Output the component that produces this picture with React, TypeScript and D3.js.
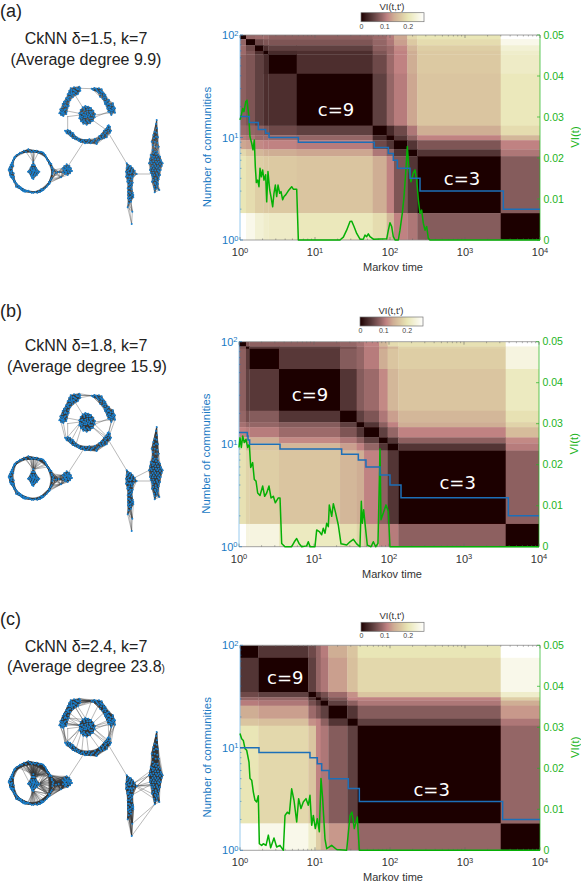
// Three-row figure: CkNN network drawings next to Markov stability heatmaps.
import { useMemo } from "react";
import * as d3 from "d3";

const FONT = "'Liberation Sans', Arial, sans-serif";
const BLUE = "#1a7ac4";
const LINE_BLUE = "#1c6fb8";
const GREEN = "#22b422";
const LINE_GREEN = "#05b005";

/** Colormap stops for VI(t,t'). */
const CMAP_VALUES = [0, 0.02, 0.05, 0.09, 0.11, 0.14, 0.17, 0.2, 0.27];
const CMAP_COLORS = ["#1f0000", "#3a1e1e", "#5f3f3f", "#9c6b6b", "#c08282", "#cfae94", "#dcc9a2", "#e9e6b6", "#ffffff"];

/* ---- panel (a) ---- */
const aSegments = [0, 0.08, 0.2, 0.31, 0.378, 0.756, 1.769, 1.956, 2.053, 2.231, 2.364, 3.476, 4];
const aVI = [
  [0, 0.085, 0.09, 0.09, 0.08, 0.08, 0.09, 0.105, 0.135, 0.185, 0.2, 0.27],
  [0, 0.06, 0.07, 0.07, 0.07, 0.085, 0.1, 0.13, 0.17, 0.19, 0.25],
  [0, 0.035, 0.05, 0.05, 0.08, 0.09, 0.115, 0.15, 0.175, 0.23],
  [0, 0.03, 0.035, 0.07, 0.09, 0.11, 0.14, 0.17, 0.22],
  [0, 0.035, 0.06, 0.09, 0.11, 0.14, 0.17, 0.215],
  [0, 0.05, 0.085, 0.105, 0.135, 0.165, 0.205],
  [0, 0.03, 0.06, 0.1, 0.14, 0.19],
  [0, 0.04, 0.08, 0.11, 0.15],
  [0, 0.04, 0.07, 0.11],
  [0, 0.04, 0.1],
  [0, 0.075],
  [0],
];
const aCommLogT = [0, 0.124, 0.244, 0.342, 0.387, 0.778, 1.791, 1.978, 2.044, 2.098, 2.267, 2.4, 3.511, 4];
const aCommCount = [16, 14, 12, 11, 10, 9, 8, 7, 6, 5, 4, 3, 2, 2];
const aViLogT = [
  0, 0.018, 0.036, 0.053, 0.076, 0.093, 0.116, 0.133, 0.156, 0.173, 0.191, 0.204, 0.218, 0.236, 0.253, 0.267, 0.284,
  0.302, 0.32, 0.342, 0.356, 0.373, 0.396, 0.413, 0.436, 0.453, 0.471, 0.489, 0.507, 0.529, 0.547, 0.569, 0.587, 0.609,
  0.644, 0.689, 0.711, 0.756, 0.778, 1.333, 1.378, 1.422, 1.467, 1.489, 1.52, 1.556, 1.6, 1.644, 1.667, 1.689, 1.711,
  1.733, 1.778, 1.956, 1.978, 2.0, 2.022, 2.044, 2.067, 2.111, 2.133, 2.164, 2.187, 2.209, 2.231, 2.253, 2.28, 2.311,
  2.333, 2.356, 2.378, 2.4, 2.422, 2.444, 2.467, 2.489, 2.511, 2.533, 4,
];
const aViValues = [
  0.0293, 0.0305, 0.0321, 0.0313, 0.0337, 0.0341, 0.0305, 0.0252, 0.0236, 0.022, 0.0244, 0.0179, 0.014, 0.0146, 0.013,
  0.0175, 0.0154, 0.0171, 0.0146, 0.0159, 0.0093, 0.0167, 0.0122, 0.0106, 0.0081, 0.0114, 0.0134, 0.0106, 0.0134,
  0.0114, 0.0118, 0.0098, 0.0106, 0.011, 0.012, 0.013, 0.0124, 0.0124, 0, 0, 0.0007, 0.0024, 0.0045, 0.0046, 0.0033,
  0.0016, 0.0002, 0.0002, 0.0012, 0.0008, 0.0015, 0.0008, 0.0002, 0.0003, 0.0024, 0.0042, 0.0033, 0.0008, 0, 0, 0.0024,
  0.0065, 0.0106, 0.0163, 0.0228, 0.0171, 0.0142, 0.0163, 0.0171, 0.0146, 0.0098, 0.0065, 0.0073, 0.0041, 0.0024,
  0.0033, 0.0004, 0, 0,
];

/* ---- panel (b) ---- */
const bSegments = [0, 0.093, 0.138, 0.533, 1.347, 1.569, 1.667, 1.867, 1.982, 2.124, 3.556, 4];
const bVI = [
  [0, 0.07, 0.08, 0.08, 0.085, 0.095, 0.11, 0.15, 0.19, 0.195, 0.27],
  [0, 0.045, 0.05, 0.065, 0.085, 0.105, 0.13, 0.15, 0.18, 0.24],
  [0, 0.045, 0.075, 0.085, 0.105, 0.14, 0.165, 0.175, 0.24],
  [0, 0.04, 0.075, 0.09, 0.115, 0.15, 0.165, 0.21],
  [0, 0.05, 0.07, 0.1, 0.13, 0.15, 0.195],
  [0, 0.04, 0.08, 0.11, 0.14, 0.18],
  [0, 0.05, 0.085, 0.11, 0.155],
  [0, 0.04, 0.08, 0.115],
  [0, 0.04, 0.105],
  [0, 0.08],
  [0],
];
const bCommLogT = [0, 0.111, 0.12, 0.13, 0.142, 0.547, 1.369, 1.591, 1.693, 1.88, 2.013, 2.16, 3.591, 4];
const bCommCount = [13, 12, 11, 11, 10, 9, 8, 7, 6, 5, 4, 3, 2, 2];
const bViLogT = [
  0, 0.013, 0.031, 0.049, 0.071, 0.093, 0.116, 0.138, 0.156, 0.182, 0.204, 0.227, 0.249, 0.28, 0.316, 0.342, 0.369, 0.4,
  0.427, 0.458, 0.484, 0.524, 0.547, 0.569, 0.613, 0.702, 0.738, 0.769, 0.8, 0.836, 0.902, 0.924, 0.947, 1.013, 1.036,
  1.071, 1.102, 1.124, 1.147, 1.169, 1.191, 1.204, 1.236, 1.258, 1.289, 1.324, 1.36, 1.436, 1.48, 1.524, 1.569, 1.613,
  1.631, 1.644, 1.662, 1.689, 1.711, 1.76, 1.791, 1.822, 1.853, 1.88, 1.893, 1.924, 1.96, 1.991, 2.013, 4,
];
const bViValues = [
  0.0242, 0.0266, 0.0242, 0.027, 0.0254, 0.0262, 0.0242, 0.025, 0.0193, 0.0205, 0.0164, 0.016, 0.0131, 0.0125, 0.0148,
  0.0123, 0.0131, 0.0148, 0.0119, 0.0123, 0.0107, 0.0119, 0.0119, 0.0008, 0, 0, 0.0012, 0.002, 0.0008, 0, 0.0002,
  0.0012, 0, 0, 0.0041, 0.0037, 0.0029, 0.0045, 0.0033, 0.0057, 0.0049, 0.0102, 0.0074, 0.0105, 0.0082, 0.0053, 0.0007,
  0.0004, 0.0012, 0.0018, 0.0007, 0, 0.0111, 0.0057, 0.009, 0.0041, 0.0004, 0, 0.0012, 0, 0.0008, 0.0238, 0.0066,
  0.0082, 0.0102, 0.0086, 0, 0,
];

/* ---- panel (c) ---- */
const cSegments = [0, 0.244, 0.911, 1.013, 1.076, 1.178, 1.431, 1.569, 3.476, 4];
const cVI = [
  [0, 0.04, 0.06, 0.085, 0.105, 0.14, 0.165, 0.2, 0.27],
  [0, 0.05, 0.085, 0.1, 0.13, 0.16, 0.185, 0.25],
  [0, 0.04, 0.065, 0.09, 0.12, 0.165, 0.22],
  [0, 0.04, 0.07, 0.11, 0.11, 0.175],
  [0, 0.05, 0.08, 0.1, 0.14],
  [0, 0.04, 0.075, 0.125],
  [0, 0.05, 0.1],
  [0, 0.085],
  [0],
];
const cCommLogT = [0, 0.253, 0.933, 1.031, 1.089, 1.187, 1.444, 1.591, 3.502, 4];
const cCommCount = [10, 9, 8, 7, 6, 5, 4, 3, 2, 2];
const cViLogT = [
  0, 0.022, 0.044, 0.067, 0.089, 0.12, 0.133, 0.156, 0.178, 0.2, 0.222, 0.244, 0.258, 0.289, 0.311, 0.347, 0.378, 0.409,
  0.453, 0.489, 0.533, 0.578, 0.6, 0.631, 0.658, 0.689, 0.72, 0.756, 0.782, 0.813, 0.844, 0.88, 0.911, 0.933, 0.956,
  0.978, 1.004, 1.031, 1.058, 1.08, 1.102, 1.133, 1.156, 1.222, 1.289, 1.422, 1.467, 1.493, 1.524, 1.564, 1.591, 4,
];
const cViValues = [
  0.0285, 0.0272, 0.0268, 0.0248, 0.0244, 0.0215, 0.0175, 0.0171, 0.0142, 0.0122, 0.0118, 0.0133, 0.0016, 0.0012, 0.0016,
  0.0012, 0.0037, 0.0006, 0.003, 0.0008, 0.0012, 0, 0.0085, 0.0093, 0.0089, 0.015, 0.0122, 0.0069, 0.0126, 0.0102,
  0.0118, 0.0126, 0.011, 0.0134, 0.0061, 0.0085, 0.0053, 0.0077, 0.0045, 0.0175, 0.0126, 0.0028, 0.0004, 0.0012, 0.0002,
  0, 0.0085, 0.0093, 0.0053, 0.0081, 0, 0,
];

/* ---- network layout, shared by the three drawings (3x picture pixels) ---- */
const topLeftArc = [
  [182, 335], [187, 322], [192, 340], [196, 328], [183, 345], [190, 348], [200, 318], [195, 308], [188, 312], [205, 300],
  [198, 295], [210, 290], [203, 283], [215, 280], [208, 272], [220, 270], [226, 285], [212, 265], [222, 262], [232, 268],
  [238, 260], [241, 272], [235, 278], [228, 275], [218, 292], [205, 310], [193, 330], [200, 335], [214, 276], [224, 272],
  [198, 302], [186, 330], [190, 335], [185, 338], [194, 318], [202, 325], [206, 318], [211, 300], [216, 285], [222, 280],
  [229, 265], [236, 268], [214, 270], [205, 292], [196, 315], [189, 342], [178, 340], [181, 328], [207, 280], [233, 283],
  [241, 265], [220, 280], [210, 283], [199, 342], [192, 305], [187, 338], [203, 296],
];
const topRightArc = [
  [275, 266], [283, 264], [290, 270], [297, 265], [305, 268], [296, 278], [303, 283], [311, 285], [308, 296], [318, 292],
  [322, 302], [314, 305], [327, 312], [320, 318], [332, 316], [337, 325], [328, 328], [343, 333], [335, 338], [325, 335],
  [345, 325], [332, 330], [315, 312], [306, 276], [288, 266], [326, 322], [340, 328], [338, 316], [322, 326], [280, 270],
  [293, 274], [301, 272], [310, 278], [316, 298], [325, 310], [330, 322], [336, 332], [345, 338], [318, 306], [312, 292],
  [300, 290], [322, 312], [334, 345], [339, 310], [329, 335], [304, 275], [316, 284], [327, 300], [342, 322],
];
const bottomArc = [
  [195, 392], [203, 390], [200, 400], [208, 402], [215, 398], [212, 408], [222, 406], [218, 414], [230, 412], [226, 418],
  [238, 416], [245, 422], [252, 426], [258, 420], [266, 424], [272, 430], [280, 422], [288, 428], [296, 420], [303, 416],
  [298, 408], [308, 410], [315, 400], [312, 392], [320, 405], [325, 392], [330, 398], [322, 384], [330, 380], [318, 388],
  [326, 376], [305, 402], [236, 422], [285, 416], [198, 395], [206, 396], [214, 403], [224, 412], [233, 418], [242, 426],
  [250, 420], [262, 428], [275, 425], [292, 424], [300, 412], [310, 405], [318, 395], [328, 386], [333, 392], [320, 412],
  [290, 432], [268, 418], [210, 392], [220, 400], [255, 430], [312, 415], [323, 378],
];
const centerBlob = [
  [238, 340], [242, 330], [248, 322], [256, 318], [265, 320], [273, 324], [280, 332], [285, 342], [284, 352], [279, 362],
  [270, 370], [260, 374], [250, 371], [243, 364], [238, 355], [247, 338], [253, 330], [262, 328], [270, 335], [275, 345],
  [270, 355], [262, 362], [252, 360], [246, 350], [255, 345], [263, 342], [258, 352], [250, 344], [268, 345], [262, 335],
  [240, 347], [276, 355], [254, 366], [271, 328], [245, 356], [244, 340], [252, 325], [259, 322], [268, 328], [276, 336],
  [281, 347], [274, 362], [266, 366], [257, 368], [248, 364], [241, 352], [256, 338], [266, 350], [253, 352], [272, 340],
  [260, 348],
];
const leftRing = [
  [85, 448], [95, 456], [105, 455], [115, 458], [125, 456], [132, 462], [138, 470], [142, 480], [150, 488], [155, 500],
  [160, 510], [157, 522], [155, 535], [150, 548], [143, 556], [135, 565], [125, 573], [112, 578], [100, 578], [90, 576],
  [78, 572], [70, 568], [60, 562], [52, 556], [47, 548], [40, 538], [35, 528], [30, 515], [28, 505], [32, 495], [38, 485],
  [42, 475], [50, 465], [60, 458], [72, 452], [36, 512], [34, 520], [38, 530], [33, 505], [40, 498], [44, 542], [55, 563],
  [65, 570], [75, 575], [120, 576], [130, 570], [148, 552], [154, 492], [146, 483], [130, 458], [110, 452], [66, 458],
  [44, 470], [37, 490], [30, 525], [31, 500], [36, 495], [28, 512], [34, 515], [32, 530], [37, 535], [42, 545], [50, 552],
  [57, 558], [48, 560], [62, 566], [72, 570], [82, 574], [95, 578], [106, 576], [116, 574], [128, 568], [140, 560],
  [147, 546], [152, 540], [158, 515], [156, 505], [148, 492], [140, 474], [136, 465], [120, 455], [100, 452], [90, 452],
  [78, 456], [56, 462], [46, 472], [40, 480], [35, 490], [41, 520], [42, 530], [26, 510], [64, 563], [70, 574], [85, 572],
  [123, 568],
];
const leftInner = [
  [100, 487], [96, 495], [104, 496], [92, 503], [100, 503], [108, 504], [88, 512], [96, 511], [104, 512], [112, 514],
  [118, 515], [90, 520], [98, 520], [106, 521], [94, 528], [102, 529], [110, 526], [100, 537], [84, 515], [96, 534],
  [100, 495], [94, 507], [102, 508], [110, 509], [92, 516], [100, 516], [108, 516], [114, 520], [96, 524], [104, 525],
  [98, 530], [100, 512],
];
const smallBlob = [
  [188, 505], [193, 498], [200, 493], [208, 497], [213, 505], [216, 513], [210, 520], [203, 525], [195, 522], [189, 517],
  [197, 508], [204, 510], [200, 516], [207, 505], [194, 512], [183, 532], [168, 518], [176, 516], [196, 502], [203, 500],
  [209, 509], [192, 508], [198, 520], [206, 516], [212, 512], [201, 505], [196, 515],
];
const lowerColumn = [
  [380, 490], [385, 496], [392, 498], [380, 505], [388, 508], [398, 505], [404, 512], [378, 515], [386, 518], [395, 516],
  [410, 522], [383, 528], [392, 528], [400, 528], [378, 530], [388, 538], [396, 538], [382, 545], [392, 548], [398, 548],
  [386, 555], [392, 560], [383, 565], [395, 568], [388, 575], [398, 578], [384, 585], [392, 590], [400, 592], [388, 600],
  [384, 595], [393, 605], [383, 622], [397, 635], [395, 672], [386, 610], [383, 500], [390, 503], [395, 510], [384, 512],
  [391, 520], [380, 522], [388, 530], [395, 532], [384, 540], [390, 552], [396, 556], [388, 565], [391, 580], [384, 575],
  [396, 585], [387, 592], [392, 598], [400, 585], [386, 545], [402, 520],
];
const rightColumn = [
  [470, 360], [468, 372], [471, 385], [464, 395], [470, 398], [460, 405], [468, 410], [474, 412], [455, 425], [464, 425],
  [472, 428], [458, 435], [467, 440], [476, 440], [452, 465], [460, 460], [468, 462], [475, 465], [450, 478], [458, 475],
  [466, 478], [474, 478], [482, 480], [447, 490], [455, 490], [463, 492], [472, 490], [480, 492], [488, 490], [453, 503],
  [461, 505], [470, 503], [478, 505], [485, 498], [452, 518], [460, 518], [470, 520], [477, 515], [458, 532], [467, 535],
  [475, 530], [480, 525], [456, 545], [465, 548], [472, 545], [462, 560], [470, 558], [478, 570], [464, 577], [471, 565],
  [462, 415], [458, 450], [464, 455], [472, 455], [456, 468], [462, 470], [470, 470], [480, 470], [452, 485], [460, 484],
  [468, 485], [476, 485], [484, 485], [458, 498], [466, 498], [474, 498], [450, 510], [458, 511], [466, 511], [474, 511],
  [482, 510], [456, 525], [463, 525], [472, 525], [460, 540], [468, 541], [476, 538], [467, 552], [474, 552], [464, 568],
];
/** Single long links that join the clumps. */
const bridges = [
  [[250, 428], [205, 497]],
  [[326, 400], [380, 490]],
  [[410, 522], [450, 522]],
  [[160, 512], [186, 516]],
  [[100, 456], [100, 487]],
  [[202, 350], [240, 345]],
  [[203, 348], [203, 390]],
  [[280, 362], [322, 392]],
  [[285, 345], [335, 338]],
  [[196, 332], [238, 340]],
  [[225, 285], [248, 322]],
  [[325, 335], [284, 352]],
];
/** Extra links that only show up at delta 1.8 and above. */
const midChords = [
  [[241, 265], [275, 266]],
  [[183, 345], [195, 392]],
  [[190, 348], [200, 400]],
  [[345, 338], [330, 380]],
  [[334, 345], [326, 376]],
  [[240, 347], [203, 390]],
  [[238, 355], [215, 398]],
  [[243, 364], [226, 418]],
  [[279, 362], [312, 392]],
  [[284, 352], [325, 392]],
  [[100, 452], [100, 495]],
  [[96, 456], [92, 503]],
  [[110, 452], [104, 496]],
  [[160, 510], [188, 505]],
  [[155, 535], [183, 532]],
  [[157, 522], [189, 517]],
  [[404, 512], [447, 490]],
];
/** Extra links that only show up at delta 2.4. */
const denseChords = [
  [[238, 340], [190, 335]],
  [[242, 330], [205, 300]],
  [[248, 322], [226, 285]],
  [[256, 318], [233, 283]],
  [[273, 324], [296, 278]],
  [[280, 332], [316, 298]],
  [[285, 342], [330, 322]],
  [[285, 342], [345, 325]],
  [[284, 352], [333, 392]],
  [[270, 370], [303, 416]],
  [[260, 374], [266, 424]],
  [[250, 371], [245, 422]],
  [[238, 355], [195, 392]],
  [[238, 340], [178, 340]],
  [[178, 340], [203, 390]],
  [[187, 322], [200, 400]],
  [[241, 272], [275, 266]],
  [[233, 283], [280, 270]],
  [[345, 325], [333, 392]],
  [[118, 515], [150, 488]],
  [[118, 515], [155, 500]],
  [[118, 515], [160, 510]],
  [[118, 515], [155, 535]],
  [[112, 514], [138, 470]],
  [[110, 526], [150, 548]],
  [[108, 504], [125, 456]],
  [[104, 496], [115, 458]],
  [[88, 512], [60, 458]],
  [[96, 495], [85, 448]],
  [[410, 522], [447, 490]],
  [[410, 522], [452, 518]],
  [[410, 522], [456, 545]],
  [[404, 512], [450, 478]],
  [[402, 520], [462, 560]],
  [[398, 548], [452, 518]],
  [[383, 622], [397, 600]],
  [[395, 672], [384, 595]],
  [[395, 672], [400, 592]],
  [[470, 360], [455, 425]],
  [[470, 360], [476, 440]],
  [[471, 385], [450, 478]],
  [[471, 385], [488, 490]],
];

const networkNodes = [
  ...topLeftArc, ...topRightArc, ...bottomArc, ...centerBlob, ...leftRing, ...leftInner, ...smallBlob, ...lowerColumn, ...rightColumn,
];

/** CkNN graph: i~j when d(i,j) < delta * sqrt(d_k(i) d_k(j)). */
function cknnEdges(nodes: number[][], delta: number, k: number) {
  const dist = (a: number[], b: number[]) => Math.hypot(a[0] - b[0], a[1] - b[1]);
  const dk = nodes.map((n) => {
    const ds = nodes.map((m) => dist(n, m)).sort((p, q) => p - q);
    return ds[k];
  });
  const edges: number[][][] = [];
  for (let i = 0; i < nodes.length; i++) {
    for (let j = i + 1; j < nodes.length; j++) {
      if (dist(nodes[i], nodes[j]) < delta * Math.sqrt(dk[i] * dk[j])) edges.push([nodes[i], nodes[j]]);
    }
  }
  return edges;
}

const color = d3.scaleLinear<string>().domain(CMAP_VALUES).range(CMAP_COLORS).interpolate(d3.interpolateRgb);
const decades = [0, 1, 2, 3, 4];
const viTicks = [0, 0.01, 0.02, 0.03, 0.04, 0.05];

function Network({ dy, delta }: { dy: number; delta: number }) {
  // our node list is sparser than the original, so k is a bit larger than the 7 in the title
  const edges = useMemo(() => cknnEdges(networkNodes, delta, 9), [delta]);
  const sx = d3.scaleLinear().domain([0, 600]).range([0, 200]);
  const sy = d3.scaleLinear().domain([0, 600]).range([dy, dy + 200]);
  const links = [
    ...edges,
    ...bridges,
    ...(delta >= 1.8 ? midChords : []),
    ...(delta >= 2.4 ? denseChords : []),
  ];
  return (
    <g>
      {links.map((e, i) => (
        <line key={i} x1={sx(e[0][0])} y1={sy(e[0][1])} x2={sx(e[1][0])} y2={sy(e[1][1])} stroke="#333" strokeWidth={0.35} />
      ))}
      {networkNodes.map((n, i) => (
        <circle key={i} cx={sx(n[0])} cy={sy(n[1])} r={1} fill="#1a80cf" />
      ))}
    </g>
  );
}

type PanelProps = {
  id: string;
  x0: number;
  y0: number;
  segments: number[];
  vi: number[][];
  commLogT: number[];
  commCount: number[];
  viLogT: number[];
  viValues: number[];
  c9: number[];
  c3: number[];
  cbY: number;
  cbX: number;
};

function Panel({ id, x0, y0, segments, vi, commLogT, commCount, viLogT, viValues, c9, c3, cbY, cbX }: PanelProps) {
  const w = 300;
  const h = 205;
  const x1 = x0 + w;
  const y1 = y0 + h;
  const x = d3.scaleLog().domain([1, 1e4]).range([x0, x1]);
  const heatY = d3.scaleLog().domain([1, 1e4]).range([y0, y1]);
  const yComm = d3.scaleLog().domain([1, 100]).range([y1, y0]);
  const yVi = d3.scaleLinear().domain([0, 0.05]).range([y1, y0]);
  const cbScale = d3.scaleLinear().domain([0, 0.27]).range([cbX, cbX + 63]);

  const commLine = d3
    .line<number>()
    .x((t) => x(10 ** t))
    .y((_, i) => yComm(commCount[i]))
    .curve(d3.curveStepAfter);
  const viLine = d3
    .line<number>()
    .x((t) => x(10 ** t))
    .y((_, i) => yVi(viValues[i]));

  const value = (i: number, j: number) => (i <= j ? vi[i][j - i] : vi[j][i - j]);
  const cells: { i: number; j: number }[] = [];
  for (let i = 0; i < segments.length - 1; i++) for (let j = 0; j < segments.length - 1; j++) cells.push({ i, j });

  const minorX = x.ticks().filter((t) => !decades.includes(Math.log10(t)));
  const minorY = yComm.ticks().filter((t) => ![1, 10, 100].includes(t));
  const cbSteps = d3.range(0, 0.27, 0.27 / 63);

  return (
    <g fontFamily={FONT}>
      <defs>
        <clipPath id={`clip-${id}`}>
          <rect x={x0} y={y0} width={w} height={h} />
        </clipPath>
        <filter id={`soft-${id}`} x="-2%" y="-2%" width="104%" height="104%">
          <feGaussianBlur stdDeviation={0.45} />
        </filter>
      </defs>
      <g clipPath={`url(#clip-${id})`}>
        <g filter={`url(#soft-${id})`}>
          {cells.map(({ i, j }) => (
            <rect
              key={`${i}-${j}`}
              x={x(10 ** segments[j])}
              y={heatY(10 ** segments[i])}
              width={x(10 ** segments[j + 1]) - x(10 ** segments[j]) + 0.3}
              height={heatY(10 ** segments[i + 1]) - heatY(10 ** segments[i]) + 0.3}
              fill={color(value(i, j))}
            />
          ))}
        </g>
      </g>

      {/* frame: gray top and bottom, coloured sides */}
      <line x1={x0} x2={x1} y1={y0} y2={y0} stroke="#8a8a8a" strokeWidth={0.8} />
      <line x1={x0} x2={x1} y1={y1} y2={y1} stroke="#8a8a8a" strokeWidth={0.8} />
      <line x1={x0} x2={x0} y1={y0} y2={y1} stroke="#8cc4ec" strokeWidth={0.9} />
      <line x1={x1} x2={x1} y1={y0} y2={y1} stroke={GREEN} strokeWidth={0.9} opacity={0.8} />

      {minorX.map((t) => (
        <g key={t} stroke="#666" strokeWidth={0.5}>
          <line x1={x(t)} x2={x(t)} y1={y1} y2={y1 - 1.5} />
          <line x1={x(t)} x2={x(t)} y1={y0} y2={y0 + 1.5} />
        </g>
      ))}
      {decades.map((d) => (
        <g key={d}>
          <line x1={x(10 ** d)} x2={x(10 ** d)} y1={y1} y2={y1 - 3} stroke="#666" strokeWidth={0.6} />
          <line x1={x(10 ** d)} x2={x(10 ** d)} y1={y0} y2={y0 + 3} stroke="#666" strokeWidth={0.6} />
          <text x={x(10 ** d)} y={y1 + 16} textAnchor="middle" fontSize={11} fill="#333">
            10<tspan fontSize={7.5} dy={-3.5}>{d}</tspan>
          </text>
        </g>
      ))}
      {minorY.map((t) => (
        <line key={t} x1={x0} x2={x0 + 1.5} y1={yComm(t)} y2={yComm(t)} stroke={BLUE} strokeWidth={0.5} />
      ))}
      {[1, 10, 100].map((t, i) => (
        <g key={t}>
          <line x1={x0} x2={x0 + 3} y1={yComm(t)} y2={yComm(t)} stroke={BLUE} strokeWidth={0.6} />
          <text x={x0 - 1.5} y={yComm(t) + 4} textAnchor="end" fontSize={11} fill={BLUE}>
            10<tspan fontSize={7.5} dy={-3.5}>{i}</tspan>
          </text>
        </g>
      ))}
      {viTicks.map((v) => (
        <g key={v}>
          <line x1={x1 - 3} x2={x1} y1={yVi(v)} y2={yVi(v)} stroke={GREEN} strokeWidth={0.7} />
          <text x={x1 + 3.5} y={yVi(v) + 3.5} fontSize={10.5} fill={GREEN}>
            {v === 0 ? "0" : v.toFixed(2)}
          </text>
        </g>
      ))}

      <path d={viLine(viLogT) ?? ""} fill="none" stroke={LINE_GREEN} strokeWidth={1.5} strokeLinejoin="round" />
      <path d={commLine(commLogT) ?? ""} fill="none" stroke={LINE_BLUE} strokeWidth={1.5} />

      <text x={c9[0]} y={c9[1]} textAnchor="middle" fontFamily="'DejaVu Sans'" fontSize={18} fill="#fff">c=9</text>
      <text x={c3[0]} y={c3[1]} textAnchor="middle" fontFamily="'DejaVu Sans'" fontSize={18} fill="#fff">c=3</text>

      <text x={(x0 + x1) / 2 + 3} y={y1 + 31} textAnchor="middle" fontSize={11} fill="#333">Markov time</text>
      <text
        transform={`translate(${x0 - 29.5},${y0 + 112}) rotate(-90)`}
        textAnchor="middle"
        fontSize={11.4}
        fill={BLUE}
      >
        Number of communities
      </text>
      <text transform={`translate(${x1 + 39},${y0 + 102}) rotate(-90)`} textAnchor="middle" fontSize={11.4} fill={GREEN}>
        VI(t)
      </text>

      {/* colorbar */}
      {cbSteps.map((v) => (
        <rect key={v} x={cbScale(v)} y={cbY} width={1.4} height={9} fill={color(v)} />
      ))}
      <rect x={cbX} y={cbY} width={63} height={9} fill="none" stroke="#777" strokeWidth={0.7} />
      <text x={cbX + 31} y={cbY - 3} textAnchor="middle" fontSize={9.5} fill="#333">VI(t,t')</text>
      {[0, 0.1, 0.2].map((v) => (
        <text key={v} x={cbScale(v) + 0.5} y={cbY + 16} textAnchor="middle" fontSize={7} fill="#444">
          {v}
        </text>
      ))}
    </g>
  );
}

export default function App() {
  return (
    <svg width={581} height={882} style={{ position: "absolute", left: 0, top: 0, background: "#fff" }} fontFamily={FONT}>
      <text x={0} y={16.5} fontSize={18} fill="#222">(a)</text>
      <text x={86} y={44} textAnchor="middle" fontSize={16} fill="#222">CkNN δ=1.5, k=7</text>
      <text x={86} y={65} textAnchor="middle" fontSize={16} fill="#222">(Average degree 9.9)</text>
      <Network dy={0} delta={1.5} />
      <Panel
        id="a" x0={240} y0={35} segments={aSegments} vi={aVI}
        commLogT={aCommLogT} commCount={aCommCount} viLogT={aViLogT} viValues={aViValues}
        c9={[336, 115.5]} c3={[462, 184.5]} cbX={361} cbY={12.7}
      />

      <text x={0} y={317} fontSize={18} fill="#222">(b)</text>
      <text x={86} y={351} textAnchor="middle" fontSize={16} fill="#222">CkNN δ=1.8, k=7</text>
      <text x={87} y={372} textAnchor="middle" fontSize={16} fill="#222">(Average degree 15.9)</text>
      <Network dy={307} delta={1.8} />
      <Panel
        id="b" x0={239} y0={341.7} segments={bSegments} vi={bVI}
        commLogT={bCommLogT} commCount={bCommCount} viLogT={bViLogT} viValues={bViValues}
        c9={[310, 400.5]} c3={[457.7, 489]} cbX={360} cbY={317}
      />

      <text x={0} y={625} fontSize={18} fill="#222">(c)</text>
      <text x={86} y={652} textAnchor="middle" fontSize={16} fill="#222">CkNN δ=2.4, k=7</text>
      <text x={86} y={672} textAnchor="middle" fontSize={16} fill="#222">
        (Average degree 23.8<tspan fontSize={10}>)</tspan>
      </text>
      <Network dy={612} delta={2.4} />
      <Panel
        id="c" x0={240} y0={645.3} segments={cSegments} vi={cVI}
        commLogT={cCommLogT} commCount={cCommCount} viLogT={cViLogT} viValues={cViValues}
        c9={[285.3, 684]} c3={[431.7, 796]} cbX={361} cbY={622.3}
      />
    </svg>
  );
}
